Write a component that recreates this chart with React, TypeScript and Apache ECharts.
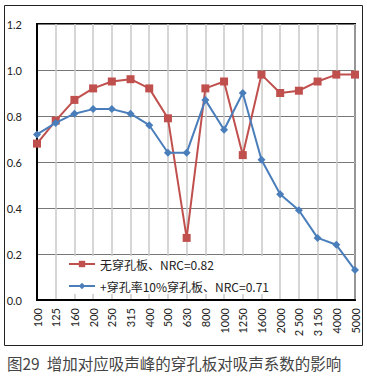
import React, { useEffect, useRef } from "react";
import * as echarts from "echarts";

const categories = ["100", "125", "160", "200", "250", "315", "400", "500", "630", "800", "1000", "1250", "1600", "2000", "2 500", "3 150", "4000", "5000"];
const noPlate = [0.68, 0.78, 0.87, 0.92, 0.95, 0.96, 0.92, 0.79, 0.27, 0.92, 0.95, 0.63, 0.98, 0.90, 0.91, 0.95, 0.98, 0.98];
const plate10 = [0.72, 0.77, 0.81, 0.83, 0.83, 0.81, 0.76, 0.64, 0.64, 0.87, 0.74, 0.90, 0.61, 0.46, 0.39, 0.27, 0.24, 0.13];
const seriesNames = ["无穿孔板、NRC=0.82", "+穿孔率10%穿孔板、NRC=0.71"];
const caption = "图29  增加对应吸声峰的穿孔板对吸声系数的影响";

export default function App() {
  const ref = useRef<HTMLDivElement>(null);
  useEffect(() => {
    const chart = echarts.init(ref.current!, null, { renderer: "svg" });
    const font = "Lato, 'Noto Sans', sans-serif";
    chart.setOption({
      animation: false,
      backgroundColor: "#fff",
      grid: {
        left: 37,
        right: 12,
        top: 24,
        bottom: 81,
        show: true,
        borderColor: "#000",
        borderWidth: 2,
        backgroundColor: "transparent",
      },
      legend: {
        orient: "vertical",
        left: 66,
        top: 256,
        itemWidth: 26,
        itemHeight: 8,
        itemGap: 10,
        data: seriesNames,
        textStyle: { fontSize: 12, color: "#222", fontFamily: "'Noto Sans CJK SC', sans-serif" },
        backgroundColor: "#fff",
        padding: [2, 4, 2, 2],
      },
      xAxis: {
        type: "category",
        data: categories,
        boundaryGap: false,
        axisLine: { show: true, lineStyle: { color: "#000", width: 2 } },
        axisTick: { show: false },
        axisLabel: {
          rotate: 90,
          fontSize: 11,
          color: "#222",
          fontFamily: font,
          margin: 8,
          interval: 0,
        },
        splitLine: { show: true, lineStyle: { color: "#c8c8c8", width: 1.5 } },
      },
      yAxis: {
        type: "value",
        min: 0,
        max: 1.2,
        interval: 0.2,
        axisLine: { show: true, lineStyle: { color: "#000", width: 2 } },
        axisTick: { show: false },
        axisLabel: {
          fontSize: 11,
          color: "#222",
          fontFamily: font,
          margin: 15,
          formatter: (v: number) => v.toFixed(1),
        },
        splitLine: { show: true, lineStyle: { color: "#777", width: 1 } },
      },
      series: [
        {
          name: seriesNames[0],
          type: "line",
          data: noPlate,
          symbol: "rect",
          symbolSize: 8,
          lineStyle: { color: "#C0504D", width: 2 },
          itemStyle: { color: "#C0504D" },
          z: 3,
        },
        {
          name: seriesNames[1],
          type: "line",
          data: plate10,
          symbol: "diamond",
          symbolSize: 8,
          lineStyle: { color: "#4A7EBB", width: 2 },
          itemStyle: { color: "#4A7EBB" },
          z: 4,
        },
      ],
      graphic: [
        {
          type: "rect",
          shape: { x: 4.5, y: 5.5, width: 358, height: 340 },
          style: { fill: "none", stroke: "#222", lineWidth: 1 },
          silent: true,
          z: -1,
        },
        {
          type: "text",
          left: 7,
          top: 355,
          style: {
            text: caption,
            fontSize: 15.5,
            fill: "#444",
            fontFamily: "'Noto Sans CJK SC', sans-serif",
          },
        },
      ],
    });
    return () => chart.dispose();
  }, []);
  return <div ref={ref} style={{ position: "fixed", left: 0, top: 0, width: 367, height: 381 }} />;
}
